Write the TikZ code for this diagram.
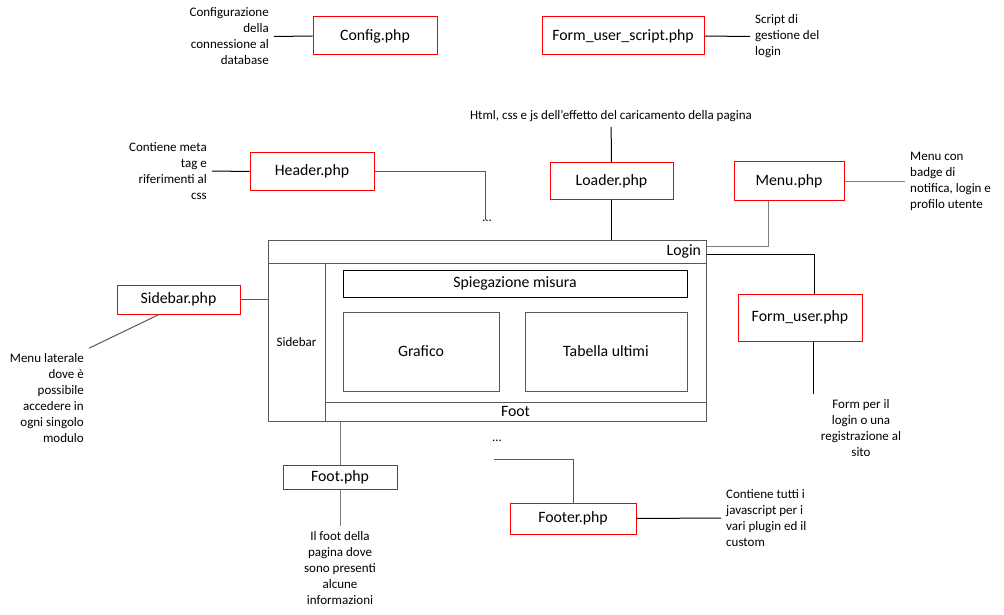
\documentclass[tikz,border=0pt]{standalone}
\usepackage{fontspec}
\setmainfont{Carlito}
\usetikzlibrary{positioning}
\definecolor{framegray}{HTML}{595959}
\definecolor{linegray}{HTML}{7F7F7F}
\definecolor{filered}{HTML}{FF0000}
\begin{document}
\begin{tikzpicture}[x=1pt,y=-1pt]
\tikzstyle{phpfile}=[draw=filered, line width=1pt, inner sep=0pt, font=\fontsize{15.8}{19}\selectfont]
\tikzstyle{layout}=[draw=framegray, line width=1pt, inner sep=0pt, font=\fontsize{15.8}{19}\selectfont]
\tikzstyle{note}=[inner sep=5pt, font=\fontsize{13}{16}\selectfont]
\tikzstyle{wire}=[line width=1pt, black]
\tikzstyle{graywire}=[line width=1pt, linegray]
\path[fill=white,use as bounding box] (0,0) rectangle (1004,615);
% file php
\node[phpfile, minimum width=124pt, minimum height=38pt] (config) at (375,36) {Config.php};
\node[phpfile, minimum width=162pt, minimum height=38pt] (fus) at (623,36) {Form\_user\_script.php};
\node[phpfile, minimum width=124pt, minimum height=37pt] (header) at (312,171.5) {Header.php};
\node[phpfile, minimum width=123pt, minimum height=36pt] (loader) at (611.5,181) {Loader.php};
\node[phpfile, minimum width=110pt, minimum height=38pt] (menu) at (789,181) {Menu.php};
\node[phpfile, minimum width=123pt, minimum height=29pt] (sidebarphp) at (178.5,299.5) {Sidebar.php};
\node[phpfile, minimum width=124pt, minimum height=47pt] (formuser) at (800,317.5) {Form\_user.php};
\node[phpfile, minimum width=114pt, minimum height=24.5pt] (footphp) at (340,477.5) {Foot.php};
\node[phpfile, minimum width=126pt, minimum height=31pt] (footer) at (573,518.5) {Footer.php};
% layout della pagina
\node[layout, minimum width=438pt, minimum height=181pt] (frame) at (487,330.5) {};
\node[layout, minimum width=438pt, minimum height=23pt, text width=428pt, align=right] (loginbar) at (487,251.5) {Login};
\node[layout, minimum width=57pt, minimum height=158pt, font=\fontsize{13}{16}\selectfont] (sidebar) at (296.5,342) {Sidebar};
\node[layout, draw=black, minimum width=344pt, minimum height=27pt] (spieg) at (515,283.5) {Spiegazione misura};
\node[layout, minimum width=156pt, minimum height=79pt] (grafico) at (421,351.5) {Grafico};
\node[layout, minimum width=162pt, minimum height=79pt] (tabella) at (606,351.5) {Tabella ultimi};
\node[layout, minimum width=381pt, minimum height=19pt] (foot) at (515.5,411.5) {Foot};
% descrizioni
\node[note, anchor=east, align=right] (confignote) at (274,36.5) {Configurazione\\della\\connessione al\\database};
\node[note, anchor=west, align=left] (fusnote) at (750,36.5) {Script di\\gestione del\\login};
\node[note, anchor=east, align=right] (headernote) at (212,171) {Contiene meta\\tag e\\riferimenti al\\css};
\node[note] (loadernote) at (611,116) {Html, css e js dell’effetto del caricamento della pagina};
\node[note, anchor=west, align=left] (menunote) at (905,181) {Menu con\\badge di\\notifica, login e\\profilo utente};
\node[note, anchor=east, align=right] (sidebarnote) at (89,398) {Menu laterale\\dove è\\possibile\\accedere in\\ogni singolo\\modulo};
\node[note, align=center] (footinfo) at (340,568) {Il foot della\\pagina dove\\sono presenti\\alcune\\informazioni};
\node[note, align=center] (formusernote) at (861,428) {Form per il\\login o una\\registrazione al\\sito};
\node[note, anchor=west, align=left] (footernote) at (721,518) {Contiene tutti i\\javascript per i\\vari plugin ed il\\custom};
\node[note, inner sep=0pt] (dotsa) at (487,221) {...};
\node[note, inner sep=0pt] (dotsb) at (497,441) {...};
\coordinate (footerend) at (494,459);
% collegamenti
\draw[wire] (config.west) -- (confignote.east);
\draw[wire] (fus.east) -- (fusnote.west);
\draw[wire] (header.west) -- (headernote.east);
\draw[wire, framegray] (header.east) -| ([xshift=-2pt]dotsa.north);
\draw[wire] (loadernote) -- (loader.north);
\draw[wire] (loader.south) -- (loader.south |- frame.north);
\draw[graywire] (menu.east) -- (menunote.west);
\draw[graywire] ([xshift=-21pt]menu.south) |- ([yshift=5.5pt]loginbar.east);
\draw[wire] ([yshift=-2.5pt]loginbar.east) -| ([xshift=14pt]formuser.north);
\draw[wire] ([xshift=13pt]formuser.south) -- ([xshift=13pt]formuser.south |- formusernote.north);
\draw[wire, framegray] (sidebarphp.east) -- (sidebarphp.east -| frame.west);
\draw[wire, framegray] ([xshift=-19.5pt]sidebarphp.south) -- (sidebarnote.north east);
\draw[graywire] (footphp.north |- frame.south) -- (footphp.north);
\draw[graywire] (footphp.south) -- (footinfo.north);
\draw[wire, framegray] (footerend) -| (footer.north);
\draw[wire] (footer.east) -- (footernote.west);
\end{tikzpicture}
\end{document}
